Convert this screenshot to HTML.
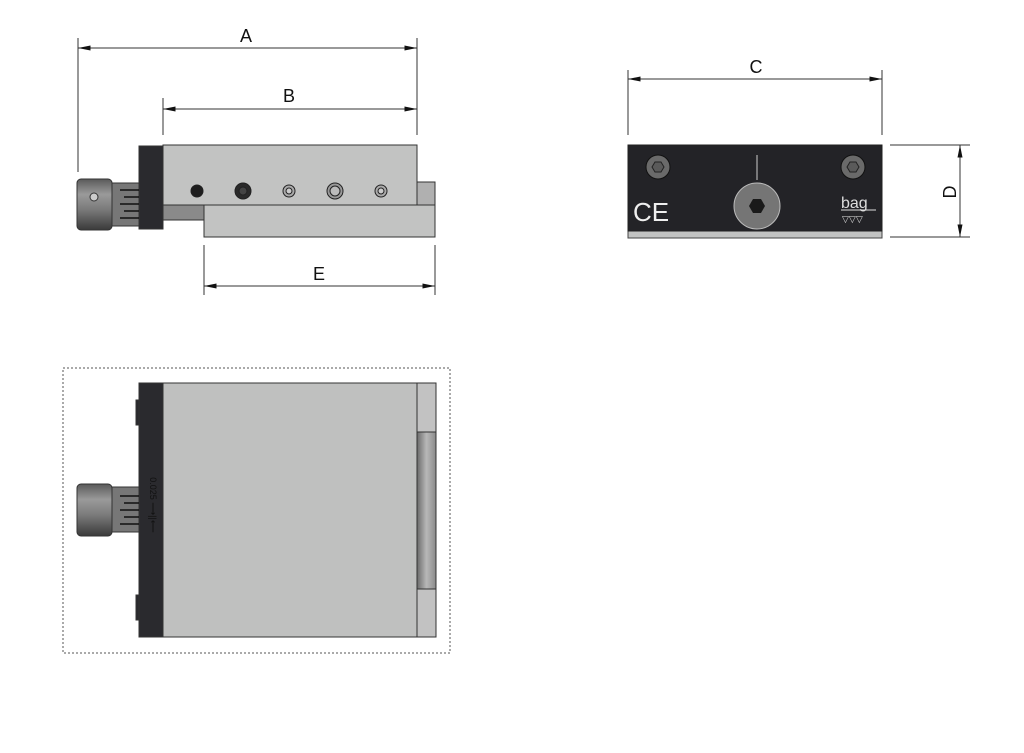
<!DOCTYPE html>
<html><head><meta charset="utf-8"><style>
html,body{margin:0;padding:0;background:#fff;}
svg{display:block;}
text{font-family:"Liberation Sans",sans-serif;fill:#111;}
</style></head><body>
<svg width="1024" height="753" viewBox="0 0 1024 753" xmlns="http://www.w3.org/2000/svg">
<defs>
<linearGradient id="knob" x1="0" y1="0" x2="0" y2="1">
<stop offset="0" stop-color="#5a5a5a"/><stop offset="0.3" stop-color="#9a9a9a"/><stop offset="0.6" stop-color="#7a7a7a"/><stop offset="1" stop-color="#3a3a3a"/></linearGradient>
<linearGradient id="strip" x1="0" y1="0" x2="1" y2="0">
<stop offset="0" stop-color="#6a6a6a"/><stop offset="0.5" stop-color="#b8b8b8"/><stop offset="1" stop-color="#8a8a8a"/></linearGradient>
<marker id="ar" viewBox="0 0 10 4" refX="10" refY="2" markerWidth="14" markerHeight="5" markerUnits="userSpaceOnUse" orient="auto-start-reverse">
<path d="M0,0 L10,2 L0,4 Z" fill="#111"/></marker>
</defs>
<g stroke="#333" stroke-width="1" fill="none">
<!-- A -->
<line x1="78" y1="38" x2="78" y2="172"/>
<line x1="417" y1="38" x2="417" y2="135"/>
<line x1="78" y1="48" x2="417" y2="48" marker-start="url(#ar)" marker-end="url(#ar)"/>
<!-- B -->
<line x1="163" y1="98" x2="163" y2="135"/>
<line x1="163" y1="109" x2="417" y2="109" marker-start="url(#ar)" marker-end="url(#ar)"/>
<!-- E -->
<line x1="204" y1="245" x2="204" y2="295"/>
<line x1="435" y1="245" x2="435" y2="295"/>
<line x1="204" y1="286" x2="435" y2="286" marker-start="url(#ar)" marker-end="url(#ar)"/>
<!-- C -->
<line x1="628" y1="70" x2="628" y2="135"/>
<line x1="882" y1="70" x2="882" y2="135"/>
<line x1="628" y1="79" x2="882" y2="79" marker-start="url(#ar)" marker-end="url(#ar)"/>
<!-- D -->
<line x1="890" y1="145" x2="970" y2="145"/>
<line x1="890" y1="237" x2="970" y2="237"/>
<line x1="960" y1="145" x2="960" y2="237" marker-start="url(#ar)" marker-end="url(#ar)"/>
</g>
<text x="246" y="42" font-size="18" text-anchor="middle">A</text>
<text x="289" y="102" font-size="18" text-anchor="middle">B</text>
<text x="319" y="280" font-size="18" text-anchor="middle">E</text>
<text x="756" y="73" font-size="18" text-anchor="middle">C</text>
<text x="950" y="192" font-size="18" text-anchor="middle" transform="rotate(-90 950 192)" dy="6">D</text>

<!-- Side view -->
<g stroke="#333" stroke-width="1">
<rect x="163" y="200" width="41" height="20" fill="#8a8a8a"/>
<rect x="204" y="205" width="231" height="32" fill="#c2c3c2"/>
<rect x="417" y="182" width="18" height="23" fill="#b0b0b0"/>
<rect x="163" y="145" width="254" height="60" fill="#c2c3c2"/>
<rect x="139" y="146" width="24" height="83" fill="#2a2a2e"/>
<rect x="112" y="183" width="27" height="43" fill="#777"/>
<rect x="77" y="179" width="35" height="51" rx="4" fill="url(#knob)"/>
</g>
<g stroke="#111" stroke-width="1.5">
<line x1="120" y1="190" x2="139" y2="190"/><line x1="124" y1="197" x2="139" y2="197"/><line x1="120" y1="204" x2="139" y2="204"/><line x1="124" y1="211" x2="139" y2="211"/><line x1="120" y1="218" x2="139" y2="218"/>
</g>
<circle cx="94" cy="197" r="4" fill="#ccc" stroke="#333"/>
<g stroke="#222">
<circle cx="197" cy="191" r="6" fill="#1e1e1e"/>
<circle cx="243" cy="191" r="8" fill="#2a2a2a"/><circle cx="243" cy="191" r="4" fill="#444"/>
<circle cx="289" cy="191" r="6" fill="#aaa"/><circle cx="289" cy="191" r="3" fill="#ccc"/>
<circle cx="335" cy="191" r="8" fill="#999"/><circle cx="335" cy="191" r="5" fill="#bbb"/>
<circle cx="381" cy="191" r="6" fill="#aaa"/><circle cx="381" cy="191" r="3" fill="#ccc"/>
</g>

<!-- End view -->
<rect x="628" y="231" width="254" height="7" fill="#c2c3c2" stroke="#444"/>
<rect x="628" y="145" width="254" height="86" fill="#232327" stroke="#222"/>
<circle cx="658" cy="167" r="12" fill="#6a6a6a" stroke="#111"/>
<polygon points="652,167 655,162 661,162 664,167 661,172 655,172" fill="#5a5a5a" stroke="#222"/>
<circle cx="853" cy="167" r="12" fill="#6a6a6a" stroke="#111"/>
<polygon points="847,167 850,162 856,162 859,167 856,172 850,172" fill="#5a5a5a" stroke="#222"/>
<line x1="757" y1="155" x2="757" y2="180" stroke="#ccc" stroke-width="1"/>
<circle cx="757" cy="206" r="23" fill="#757575" stroke="#bbb"/>
<polygon points="749,206 753,199 761,199 765,206 761,213 753,213" fill="#1a1a1a"/>
<text x="633" y="221" font-size="26" style="fill:#eee">CE</text>
<text x="841" y="208" font-size="16" style="fill:#ddd">bag</text>
<line x1="841" y1="210" x2="876" y2="210" stroke="#ddd"/>
<text x="842" y="222" font-size="9" style="fill:#ddd">▽▽▽</text>

<!-- Bottom view -->
<rect x="63" y="368" width="387" height="285" fill="none" stroke="#555" stroke-dasharray="2,2"/>
<g stroke="#333">
<rect x="163" y="383" width="254" height="254" fill="#bfc0bf"/>
<rect x="417" y="383" width="19" height="254" fill="#c2c2c2"/>
<rect x="417" y="432" width="19" height="157" fill="url(#strip)"/>
<rect x="139" y="383" width="24" height="254" fill="#2a2a2e"/>
<rect x="136" y="400" width="3" height="25" fill="#2a2a2e"/>
<rect x="136" y="595" width="3" height="25" fill="#2a2a2e"/>
<rect x="112" y="487" width="27" height="45" fill="#777"/>
<rect x="77" y="484" width="35" height="52" rx="4" fill="url(#knob)"/>
</g>
<g stroke="#111" stroke-width="1.5">
<line x1="120" y1="496" x2="139" y2="496"/><line x1="124" y1="503" x2="139" y2="503"/><line x1="120" y1="510" x2="139" y2="510"/><line x1="124" y1="517" x2="139" y2="517"/><line x1="120" y1="524" x2="139" y2="524"/>
</g>
<text x="150" y="505" font-size="9" transform="rotate(90 150 505)" text-anchor="middle" style="fill:#111">0.025 ⟶||⟵</text>
</svg>
</body></html>
